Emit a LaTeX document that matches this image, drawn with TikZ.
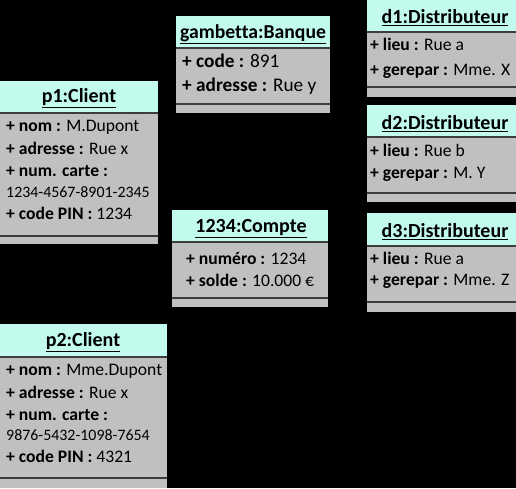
\documentclass[tikz,border=0pt]{standalone}
\usepackage{fontspec}
\setmainfont{Carlito}[Ligatures=NoCommon]
\usetikzlibrary{fit}
\definecolor{headcyan}{HTML}{C2FAEE}
\definecolor{bodygray}{HTML}{C0C0C0}
\definecolor{sepgray}{HTML}{3C3C3C}
\tikzset{
  sep/.style={draw=sepgray, line width=1.4pt},
  title/.style={font=\fontsize{20}{22}\selectfont\bfseries, inner sep=0pt, text height=0.64em, text depth=0pt},
  bigtitle/.style={title, font=\fontsize{19.7}{23}\selectfont\bfseries},
  attr/.style={font=\fontsize{17.6}{21}\selectfont, anchor=west, inner sep=0pt, text height=0.64em, text depth=0pt},
  bigattr/.style={attr, font=\fontsize{19.3}{22}\selectfont},
  card/.style={attr, font=\fontsize{15.9}{18}\selectfont},
  link/.style={draw=black, line width=1pt},
}
% #1 name, #2 x1, #3 ytop, #4 x2, #5 yhead, #6 yline, #7 ybottom
\newcommand\objbox[7]{%
  \fill[bodygray] (#2,-#5) rectangle (#4,-#7);
  \fill[headcyan] (#2,-#3) rectangle (#4,-#5);
  \draw[sep] (#2,-#5) -- (#4,-#5);
  \draw[sep] (#2,-#6) -- (#4,-#6);
  \node[fit={(#2,-#3) (#4,-#7)}, inner sep=0pt] (#1) {};
}
\begin{document}
\begin{tikzpicture}[x=1pt,y=1pt]
\useasboundingbox (0,0) rectangle (516,-488);
\fill[black] (0,0) rectangle (516,-488);

\objbox{p1}{0}{81}{158}{113}{236}{244}
\objbox{bank}{176}{16}{330}{48}{104}{113}
\objbox{compte}{172}{210}{328}{242}{298}{307}
\objbox{d1}{367}{0}{516}{32}{87}{97}
\objbox{d2}{367}{105}{516}{137}{193}{202}
\objbox{d3}{367}{213}{516}{246}{302}{312}
\objbox{p2}{0}{324}{167}{357}{478}{488}

% connectors (black lines)
\coordinate (j1) at (255,-152);
\coordinate (j2) at (348,-150);
\draw[link] (p1.east |- j1) -- (j1);
\draw[link] (bank.south -| j1) -- (compte.north -| j1);
\draw[link] (p1.south -| 55,0) -- (p2.north -| 55,0);
\draw[link] (bank.east |- 0,-57) -- (d1.west |- 0,-57);
\draw[link] (j2) -- (d2.west |- j2);
\draw[link] (compte.east |- 0,-263) -- (d3.west |- 0,-263);

% p1
\node[title] (p1t) at (79,-99) {\underline{p1:Client}};
\node[attr] (p1a) at (6,-128) {\textbf{+ nom :} M.Dupont};
\node[attr] (p1b) at (6,-151) {\textbf{+ adresse :} Rue x};
\node[attr] (p1c) at (6,-173) {\textbf{+ num. carte :}};
\node[card] (p1d) at (6,-194) {1234-4567-8901-2345};
\node[attr] (p1e) at (6,-216) {\textbf{+ code PIN :} 1234};
% bank
\node[bigtitle] (bt) at (253,-35) {\underline{gambetta:Banque}};
\node[bigattr] (ba) at (182,-64) {\textbf{+ code :} 891};
\node[bigattr] (bb) at (182,-88) {\textbf{+ adresse :} Rue y};
% compte
\node[title] (ct) at (251,-229) {\underline{1234:Compte}};
\node[attr] (ca) at (186,-261) {\textbf{+ numéro :} 1234};
\node[attr] (cb) at (186,-283) {\textbf{+ solde :} 10.000 €};
% d1
\node[title] (d1t) at (445,-20) {\underline{d1:Distributeur}};
\node[attr] (d1a) at (370,-47) {\textbf{+ lieu :} Rue a};
\node[attr] (d1b) at (370,-72) {\textbf{+ gerepar :} Mme. X};
% d2
\node[title] (d2t) at (445,-126) {\underline{d2:Distributeur}};
\node[attr] (d2a) at (370,-153) {\textbf{+ lieu :} Rue b};
\node[attr] (d2b) at (370,-175) {\textbf{+ gerepar :} M. Y};
% d3
\node[title] (d3t) at (445,-234) {\underline{d3:Distributeur}};
\node[attr] (d3a) at (370,-261) {\textbf{+ lieu :} Rue a};
\node[attr] (d3b) at (370,-282) {\textbf{+ gerepar :} Mme. Z};
% p2
\node[title] (p2t) at (83,-343) {\underline{p2:Client}};
\node[attr] (p2a) at (6,-372) {\textbf{+ nom :} Mme.Dupont};
\node[attr] (p2b) at (6,-395) {\textbf{+ adresse :} Rue x};
\node[attr] (p2c) at (6,-417) {\textbf{+ num. carte :}};
\node[card] (p2d) at (6,-437) {9876-5432-1098-7654};
\node[attr] (p2e) at (6,-459) {\textbf{+ code PIN :} 4321};
\end{tikzpicture}
\end{document}
